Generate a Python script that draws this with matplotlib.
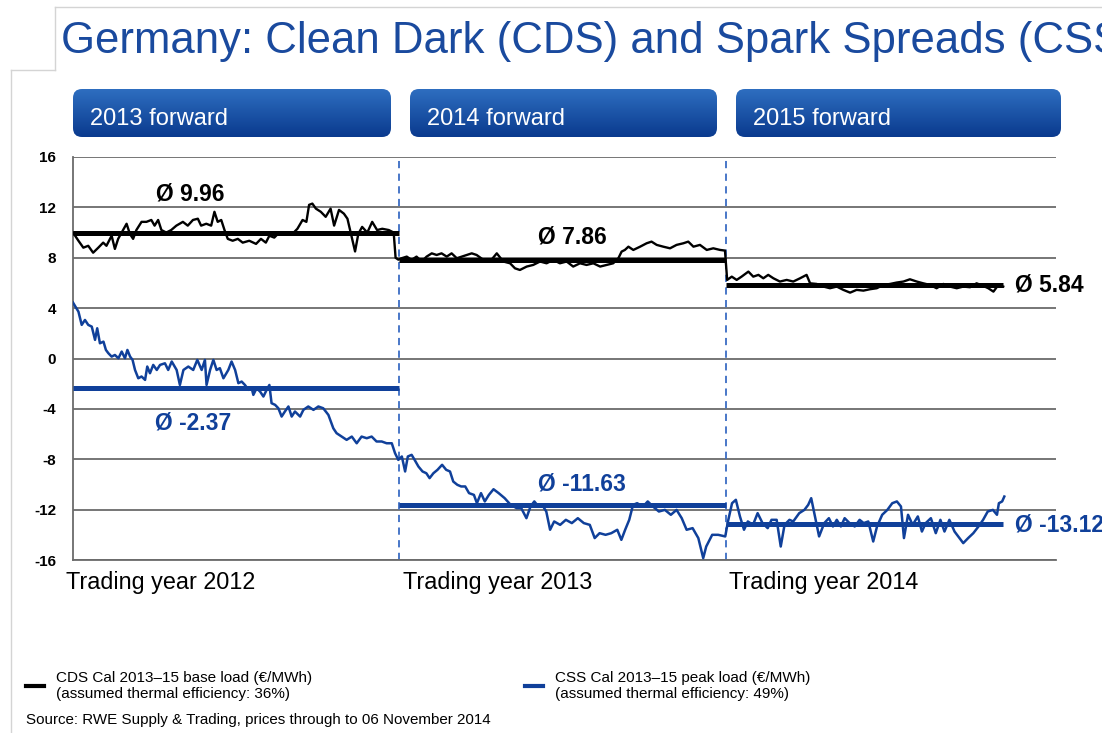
import numpy as np
import matplotlib.pyplot as plt
from matplotlib.patches import FancyBboxPatch
from matplotlib.lines import Line2D
from matplotlib.colors import LinearSegmentedColormap
from matplotlib.transforms import blended_transform_factory

plt.rcParams['font.family'] = ['Liberation Sans', 'DejaVu Sans']
plt.rcParams['axes.unicode_minus'] = False

# x = months since start of trading year 2012, values in EUR/MWh
cds_2012_m = [0.0, 0.2, 0.38, 0.56, 0.74, 0.93, 1.11, 1.23, 1.42, 1.54, 1.66, 1.84, 1.97, 2.09, 2.21,
              2.33, 2.52, 2.70, 2.88, 3.0, 3.13, 3.25, 3.43, 3.61, 3.80, 4.04, 4.22, 4.41, 4.59, 4.71,
              4.90, 5.08, 5.20, 5.32, 5.45, 5.57, 5.69, 5.87, 6.06, 6.24, 6.48, 6.73, 6.91, 7.09, 7.22,
              7.40, 7.58, 7.83, 8.07, 8.25, 8.44, 8.58, 8.68, 8.80, 8.93, 9.11, 9.29, 9.47, 9.60, 9.78,
              9.96, 10.09, 10.21, 10.37, 10.49, 10.63, 10.82, 11.00, 11.18, 11.37, 11.61, 11.79, 11.86, 11.96]
cds_2012_v = [10.0, 9.35, 8.8, 8.95, 8.4, 8.8, 9.2, 8.95, 9.75, 8.7, 9.5, 10.2, 10.7, 9.9, 9.5,
              10.2, 10.85, 10.85, 11.0, 10.55, 11.0, 10.2, 10.0, 10.2, 10.55, 10.85, 10.55, 11.0, 11.1, 10.55,
              10.7, 10.55, 11.65, 10.85, 11.0, 10.2, 9.5, 9.35, 9.5, 9.2, 9.35, 9.1, 9.5, 9.2, 9.75,
              9.6, 10.0, 10.0, 9.9, 10.3, 11.0, 10.85, 12.2, 12.3, 11.9, 11.65, 11.25, 11.9, 10.55, 11.8,
              11.5, 11.1, 10.0, 8.5, 9.9, 10.45, 10.0, 10.85, 10.2, 10.3, 10.2, 10.0, 8.0, 7.85]

cds_2013_m = [12.08, 12.27, 12.45, 12.63, 12.82, 13.0, 13.19, 13.37, 13.55, 13.74, 13.92, 14.11, 14.29,
              14.47, 14.66, 14.84, 15.09, 15.33, 15.58, 15.82, 16.07, 16.25, 16.43, 16.68, 16.92, 17.17,
              17.41, 17.66, 17.90, 18.15, 18.39, 18.64, 18.88, 19.13, 19.38, 19.62, 19.86, 20.05, 20.17,
              20.29, 20.42, 20.60, 20.85, 21.09, 21.27, 21.46, 21.70, 21.95, 22.19, 22.44, 22.62, 22.81,
              23.05, 23.30, 23.54, 23.79, 23.97]
cds_2013_v = [7.96, 8.09, 7.83, 8.09, 7.7, 8.09, 8.35, 8.22, 8.35, 8.09, 8.35, 7.96, 8.09,
              8.22, 8.35, 8.22, 7.83, 7.7, 8.35, 7.7, 7.56, 7.16, 7.03, 7.3, 7.43, 7.7,
              7.56, 7.83, 7.56, 7.7, 7.3, 7.56, 7.43, 7.56, 7.3, 7.43, 7.56, 7.96, 8.49,
              8.62, 8.88, 8.62, 8.88, 9.15, 9.28, 9.02, 8.88, 8.75, 9.02, 9.15, 9.28, 8.88,
              9.02, 8.62, 8.75, 8.62, 8.57]

cds_2014_m = [24.05, 24.22, 24.40, 24.58, 24.83, 25.01, 25.20, 25.38, 25.56, 25.75, 25.99, 26.24, 26.48,
              26.73, 26.97, 27.10, 27.34, 27.59, 27.83, 28.08, 28.32, 28.57, 28.81, 29.06, 29.30, 29.55,
              29.79, 30.04, 30.28, 30.53, 30.77, 31.02, 31.26, 31.51, 31.75, 32.0, 32.24, 32.49, 32.73,
              32.98, 33.22, 33.47, 33.65, 33.84, 34.02, 34.20]
cds_2014_v = [6.24, 6.5, 6.24, 6.5, 6.9, 6.5, 6.64, 6.37, 6.64, 6.37, 6.11, 6.24, 6.11,
              6.37, 6.64, 5.97, 5.92, 5.71, 5.58, 5.71, 5.45, 5.23, 5.45, 5.39, 5.5, 5.58,
              5.84, 5.92, 6.03, 6.11, 6.29, 6.11, 5.97, 5.84, 5.58, 5.92, 5.71, 5.58, 5.71,
              5.66, 5.97, 5.76, 5.58, 5.31, 5.84, 5.71]

css_2012_m = [0.0, 0.20, 0.32, 0.44, 0.56, 0.69, 0.81, 0.89, 0.99, 1.12, 1.21, 1.30, 1.42, 1.54, 1.67,
              1.79, 1.91, 2.0, 2.10, 2.19, 2.28, 2.40, 2.52, 2.65, 2.73, 2.83, 2.95, 3.08, 3.20, 3.38,
              3.50, 3.63, 3.81, 3.93, 4.06, 4.24, 4.42, 4.57, 4.73, 4.85, 4.91, 5.04, 5.16, 5.28, 5.40,
              5.53, 5.71, 5.83, 5.96, 6.08, 6.20, 6.32, 6.45, 6.57, 6.63, 6.75, 6.88, 7.0, 7.12, 7.22,
              7.30, 7.43, 7.55, 7.67, 7.79, 7.92, 8.04, 8.16, 8.35, 8.47, 8.65, 8.84, 9.02, 9.20, 9.39,
              9.57, 9.69, 9.88, 10.06, 10.25, 10.43, 10.61, 10.80, 10.98, 11.16, 11.35, 11.53, 11.72,
              11.84, 11.96]
css_2012_v = [4.44, 3.72, 2.67, 3.06, 2.67, 2.53, 1.48, 2.4, 1.21, 1.34, 0.68, 0.42, 0.15, 0.28, 0.02,
              0.55, 0.02, 0.68, 0.15, -0.11, -0.91, -1.57, -1.43, -1.70, -0.64, -1.17, -0.51, -0.91, -0.51, -0.38,
              -0.91, -0.24, -0.91, -2.1, -0.91, -0.64, -0.91, -0.11, -0.91, -0.11, -2.1, -0.91, -0.11, -0.91, -0.77,
              -1.57, -0.91, -0.24, -0.91, -1.96, -1.83, -2.1, -2.49, -2.36, -2.89, -2.36, -2.63, -3.02, -2.49, -2.1,
              -3.55, -3.68, -3.95, -4.61, -4.21, -3.81, -4.61, -4.21, -4.61, -4.08, -3.81, -4.08, -3.81, -3.95, -4.48,
              -5.54, -5.93, -6.2, -6.46, -6.2, -6.73, -6.2, -6.33, -6.2, -6.59, -6.59, -6.73, -6.73,
              -7.52, -8.05]

css_2013_m = [12.09, 12.21, 12.31, 12.45, 12.56, 12.70, 12.85, 12.99, 13.11, 13.25, 13.40, 13.57, 13.72,
              13.86, 13.98, 14.13, 14.27, 14.42, 14.56, 14.74, 14.85, 15.0, 15.14, 15.29, 15.46, 15.65,
              15.87, 16.09, 16.31, 16.48, 16.67, 16.82, 16.96, 17.11, 17.25, 17.40, 17.54, 17.69, 17.91,
              18.12, 18.34, 18.56, 18.78, 19.0, 19.18, 19.36, 19.58, 19.79, 20.01, 20.16, 20.30, 20.45,
              20.59, 20.74, 20.96, 21.13, 21.32, 21.54, 21.76, 21.98, 22.19, 22.38, 22.56, 22.78, 22.99,
              23.17, 23.28, 23.50, 23.72, 23.98]
css_2013_v = [-7.78, -8.97, -7.78, -7.65, -8.05, -8.58, -8.97, -9.11, -9.5, -9.11, -8.84, -8.44, -8.84,
              -8.97, -9.77, -10.03, -10.16, -10.16, -10.69, -10.83, -11.49, -10.69, -11.35, -10.83, -10.38, -10.69,
              -11.09, -11.62, -11.88, -11.88, -12.68, -11.75, -11.35, -11.75, -11.62, -12.15, -13.6, -12.94, -13.21,
              -12.81, -13.07, -12.68, -13.07, -13.21, -14.26, -13.87, -14.0, -13.87, -13.6, -14.4, -13.6, -12.81,
              -11.62, -11.49, -11.75, -11.35, -11.75, -12.15, -12.02, -12.41, -12.02, -12.68, -13.6, -13.47, -14.26,
              -15.85, -14.93, -14.0, -14.0, -14.13]

css_2014_m = [24.08, 24.23, 24.37, 24.52, 24.67, 24.81, 25.0, 25.17, 25.35, 25.54, 25.68, 25.87, 26.02,
              26.16, 26.34, 26.48, 26.70, 26.89, 27.03, 27.14, 27.28, 27.43, 27.62, 27.79, 27.94, 28.08,
              28.23, 28.37, 28.55, 28.74, 28.92, 29.07, 29.24, 29.42, 29.56, 29.75, 29.94, 30.12, 30.29,
              30.44, 30.55, 30.70, 30.87, 31.06, 31.21, 31.35, 31.54, 31.72, 31.89, 32.04, 32.22, 32.41,
              32.59, 32.73, 32.91, 33.10, 33.29, 33.46, 33.63, 33.82, 33.97, 34.04, 34.16, 34.24]
css_2014_v = [-12.94, -11.49, -11.22, -12.54, -13.6, -12.94, -13.21, -12.28, -13.07, -13.47, -12.81, -12.81, -14.93,
              -13.21, -12.81, -12.94, -12.28, -12.02, -11.62, -11.09, -12.54, -14.13, -13.07, -12.68, -13.34, -12.81,
              -13.34, -12.68, -13.07, -13.34, -12.81, -13.07, -12.94, -14.53, -13.34, -12.41, -12.02, -11.49, -11.35,
              -11.75, -14.26, -12.41, -13.21, -12.54, -13.74, -13.07, -12.68, -13.87, -12.81, -13.74, -12.81, -13.74,
              -14.26, -14.66, -14.26, -13.87, -13.34, -12.81, -12.15, -12.02, -12.41, -11.49, -11.35, -10.96]

# averages per trading year: (start month, end month, value)
cds_avg = [(0, 12, 9.96), (12, 24, 7.86), (24, 34.2, 5.84)]
css_avg = [(0, 12, -2.37), (12, 24, -11.63), (24, 34.2, -13.12)]

periods = ['2013 forward', '2014 forward', '2015 forward']
years = ['Trading year 2012', 'Trading year 2013', 'Trading year 2014']

BLUE = '#10409a'
W, H = 1102, 733


def fx(px):
    return px / W


def fy(py):
    return 1 - py / H


fig = plt.figure(figsize=(W / 100, H / 100), dpi=100)

# slide frame
for xs, ys in [([55, 55], [7, 70]), ([55, 1102], [7, 7]), ([11, 55], [70, 70]), ([11, 11], [70, 733])]:
    fig.add_artist(Line2D([fx(x) for x in xs], [fy(y) for y in ys], color='#d4d4d4', lw=1))

# title runs off the slide edge, as in the original screenshot
fig.text(fx(61), fy(41), 'Germany: Clean Dark (CDS) and Spark Spreads (CSS)', color='#1a4a9e',
         fontsize=31.5, va='center', ha='left')

# header boxes with gradient
cmap = LinearSegmentedColormap.from_list('hdr', ['#2e6ec0', '#0a3a8e'])
grad = np.linspace(0, 1, 64).reshape(-1, 1)
for (x0, x1), label in zip([(73, 391), (410, 717), (736, 1061)], periods):
    w, h = x1 - x0, 48
    axh = fig.add_axes([fx(x0), fy(137), w / W, h / H])
    axh.set_xlim(0, w)
    axh.set_ylim(0, h)
    axh.axis('off')
    im = axh.imshow(grad, extent=[0, w, 0, h], aspect='auto', cmap=cmap, origin='upper')
    box = FancyBboxPatch((0, 0), w, h, boxstyle='round,pad=0,rounding_size=9',
                         transform=axh.transData, facecolor='none', edgecolor='none')
    axh.add_patch(box)
    im.set_clip_path(box)
    axh.text(17, h / 2 - 6, label, color='white', fontsize=17, va='center', ha='left')

# main chart
ax = fig.add_axes([fx(73), fy(560), (1056 - 73) / W, (560 - 157) / H])
ax.set_xlim(0, 36.14)
ax.set_ylim(-16, 16)
ax.set_yticks(range(-16, 17, 4))
ax.set_xticks([])
ax.tick_params(axis='y', length=0, pad=12, labelsize=11)
for t in ax.get_yticklabels():
    t.set_fontweight('bold')
ax.yaxis.grid(True, color='#6b6b6b', lw=1.3)
ax.set_axisbelow(True)
for s in ['top', 'right']:
    ax.spines[s].set_visible(False)
for s in ['left', 'bottom']:
    ax.spines[s].set_color('#6b6b6b')
    ax.spines[s].set_linewidth(1.3)

for xb in [12, 24]:
    ax.axvline(xb, color='#3a6cc4', lw=1.3, ls=(0, (4, 3)), clip_on=False)

cds_m = cds_2012_m + cds_2013_m + cds_2014_m
cds_v = cds_2012_v + cds_2013_v + cds_2014_v
css_m = css_2012_m + css_2013_m + css_2014_m
css_v = css_2012_v + css_2013_v + css_2014_v
ax.plot(cds_m, cds_v, color='black', lw=1.7, zorder=3)
ax.plot(css_m, css_v, color=BLUE, lw=1.8, zorder=3)
for (a, b, v) in cds_avg:
    ax.plot([a, b], [v, v], color='black', lw=3.6, solid_capstyle='butt', zorder=4)
for (a, b, v) in css_avg:
    ax.plot([a, b], [v, v], color=BLUE, lw=3.6, solid_capstyle='butt', zorder=4)

lab = dict(fontsize=16.5, fontweight='bold', va='center')
ax.text(4.3, 13.1, 'Ø 9.96', color='black', ha='center', **lab)
ax.text(18.35, 9.65, 'Ø 7.86', color='black', ha='center', **lab)
ax.text(34.63, 5.84, 'Ø 5.84', color='black', ha='left', clip_on=False, **lab)
ax.text(4.42, -5.1, 'Ø -2.37', color=BLUE, ha='center', **lab)
ax.text(18.7, -10.0, 'Ø -11.63', color=BLUE, ha='center', **lab)
ax.text(34.63, -13.2, 'Ø -13.12', color=BLUE, ha='left', clip_on=False, **lab)

tr = blended_transform_factory(ax.transData, ax.transAxes)
for xs, label in zip([-0.25, 12.12, 24.12], years):
    ax.text(xs, -0.055, label, transform=tr, fontsize=16.8, ha='left', va='center')

# legend
fig.add_artist(Line2D([fx(26), fx(44)], [fy(686), fy(686)], color='black', lw=3))
fig.add_artist(Line2D([fx(525), fx(543)], [fy(686), fy(686)], color=BLUE, lw=3))
fig.text(fx(56), fy(686), 'CDS Cal 2013–15 base load (€/MWh)\n(assumed thermal efficiency: 36%)',
         fontsize=11, va='center', ha='left', linespacing=1.2)
fig.text(fx(555), fy(686), 'CSS Cal 2013–15 peak load (€/MWh)\n(assumed thermal efficiency: 49%)',
         fontsize=11, va='center', ha='left', linespacing=1.2)
fig.text(fx(26), fy(720), 'Source: RWE Supply & Trading, prices through to 06 November 2014',
         fontsize=10.9, va='center', ha='left')

fig.savefig('out.png', dpi=100)
